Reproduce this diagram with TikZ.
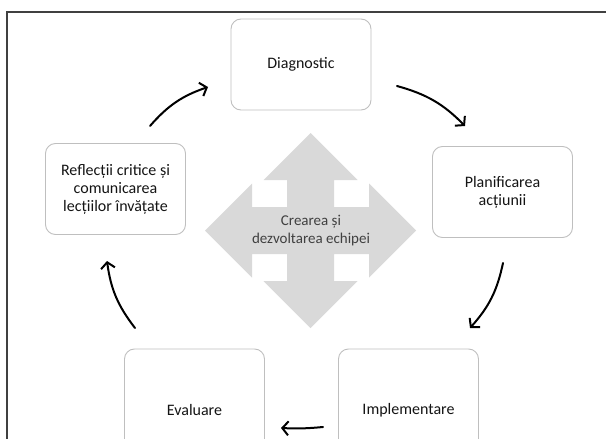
\documentclass[tikz,border=0pt]{standalone}
\usepackage{fontspec}
\setmainfont{Carlito}
\usetikzlibrary{arrows.meta}
\definecolor{boxline}{HTML}{BFBFBF}
\definecolor{crossfill}{HTML}{D9D9D9}
\definecolor{txt}{HTML}{141414}
\definecolor{frameline}{HTML}{404040}

\begin{document}
\begin{tikzpicture}[x=1pt,y=-1pt,
    stage/.style={draw=boxline,line width=0.9pt,rounded corners=10pt,
      minimum width=140pt,minimum height=91pt,align=center,text=txt,
      font=\fontsize{16}{18}\selectfont},
    cyc/.style={-{Straight Barb[length=6pt,width=14pt]},line width=2pt,line cap=round}]
  \useasboundingbox (0,0) rectangle (606,439);
  \draw[frameline,line width=1.2pt] (7,439)--(7,12)--(606,12);
  % four-way arrow in the middle
  \fill[crossfill,shift={(310.5,230.5)}] (0,-97.5)--(47,-50.5)--(23.5,-50.5)--(23.5,-23.5)
    --(58.5,-23.5)--(58.5,-47)--(105.5,0)--(58.5,47)--(58.5,23.5)--(23.5,23.5)
    --(23.5,50.5)--(47,50.5)--(0,97.5)--(-47,50.5)--(-23.5,50.5)--(-23.5,23.5)
    --(-58.5,23.5)--(-58.5,47)--(-105.5,0)--(-58.5,-47)--(-58.5,-23.5)--(-23.5,-23.5)
    --(-23.5,-50.5)--(-47,-50.5)--cycle;
  \node[align=center,text=frameline,font=\fontsize{15}{18}\selectfont] (team) at (311,231) {Crearea și\\dezvoltarea echipei};
  % the five stages
  \node[stage] (diag) at (301,64.5) {Diagnostic};
  \node[stage] (plan) at (502.5,192) {Planificarea\\acțiunii};
  \node[stage,minimum height=122pt] (impl) at (408.5,410) {Implementare};
  \node[stage,minimum height=122pt] (eval) at (194.5,410) {Evaluare};
  \node[stage] (refl) at (115.5,189) {Reflecții critice și\\comunicarea\\lecțiilor învățate};
  % arrow ends
  \coordinate (rd1) at (150,126); \coordinate (rd2) at (208,87);
  \coordinate (dp1) at (397,86);  \coordinate (dp2) at (465,126);
  \coordinate (pi1) at (503,263); \coordinate (pi2) at (470,328);
  \coordinate (ie1) at (323,427); \coordinate (ie2) at (281,428);
  \coordinate (er1) at (135,328); \coordinate (er2) at (107,261);
  \draw[cyc] (rd1) to[bend left=15] (rd2);
  \draw[cyc] (dp1) to[bend left=15] (dp2);
  \draw[cyc] (pi1) to[bend left=15] (pi2);
  \draw[cyc] (ie1) to[bend left=4] (ie2);
  \draw[cyc] (er1) to[bend left=15] (er2);
\end{tikzpicture}
\end{document}
